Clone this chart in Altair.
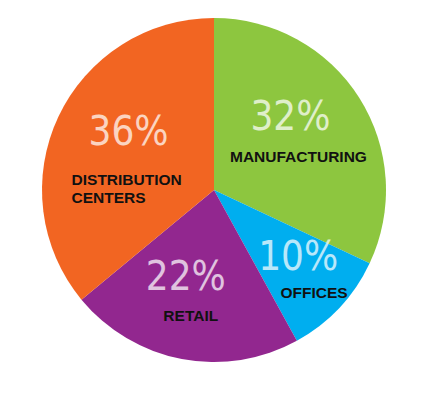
import altair as alt
import pandas as pd

# Data
categories = ["MANUFACTURING", "OFFICES", "RETAIL", "DISTRIBUTION CENTERS"]
values = [32, 10, 22, 36]
display_labels = ["MANUFACTURING", "OFFICES", "RETAIL", "DISTRIBUTION\nCENTERS"]
colors = ["#8DC63F", "#00AEEF", "#92278F", "#F26522"]

df = pd.DataFrame({
    "category": categories,
    "value": values,
    "label": display_labels,
    "order": list(range(len(categories))),
})

CX, CY, R = 206, 182, 172

# label layout: anchor radius, pct offset, label offset, label align
layout = {
    "MANUFACTURING": dict(r=100, pdx=-8, pdy=-18, ldx=0, ldy=21, align="center"),
    "OFFICES": dict(r=125, pdx=-7, pdy=-18, ldx=9, ldy=17, align="center"),
    "RETAIL": dict(r=108, pdx=-8, pdy=-18, ldx=-3, ldy=20, align="center"),
    "DISTRIBUTION CENTERS": dict(r=90, pdx=-4, pdy=-19, ldx=-61, ldy=28, align="left"),
}

base = alt.Chart(df)

pie = base.mark_arc(outerRadius=R).encode(
    theta=alt.Theta("value:Q", stack=True),
    color=alt.Color("category:N", scale=alt.Scale(domain=categories, range=colors), legend=None),
    order=alt.Order("order:Q"),
    x=alt.value(CX),
    y=alt.value(CY),
)

layers = [pie]
for cat in categories:
    L = layout[cat]
    t = (
        base.transform_joinaggregate(total="sum(value)")
        .transform_window(cum="sum(value)", sort=[alt.SortField("order")])
        .transform_calculate(ang="(datum.cum - datum.value/2)/datum.total*2*PI")
        .transform_filter(alt.datum.category == cat)
        .transform_calculate(
            px=f"{CX} + {L['r']}*sin(datum.ang)",
            py=f"{CY} - {L['r']}*cos(datum.ang)",
            pct="datum.value + '%'",
        )
    )
    pct = t.mark_text(
        dx=L["pdx"], dy=L["pdy"], font="DejaVu Sans Condensed, Roboto Condensed, Roboto, sans-serif",
        fontSize=40, fontWeight=500,
        color="white", opacity=0.72, align="center", baseline="middle",
    ).encode(x=alt.X("px:Q", scale=None), y=alt.Y("py:Q", scale=None), text="pct:N")
    lab = t.mark_text(
        dx=L["ldx"], dy=L["ldy"], font="Liberation Sans", fontWeight="bold", fontSize=15.5,
        color="#111111", align=L["align"], baseline="middle", lineBreak="\n", lineHeight=18,
    ).encode(x=alt.X("px:Q", scale=None), y=alt.Y("py:Q", scale=None), text="label:N")
    layers += [pct, lab]

chart = alt.layer(*layers).properties(
    width=406, height=392, padding=0, autosize="none"
).configure_view(stroke=None)

chart.save("out.html", embed_options={"renderer": "svg", "actions": False})
